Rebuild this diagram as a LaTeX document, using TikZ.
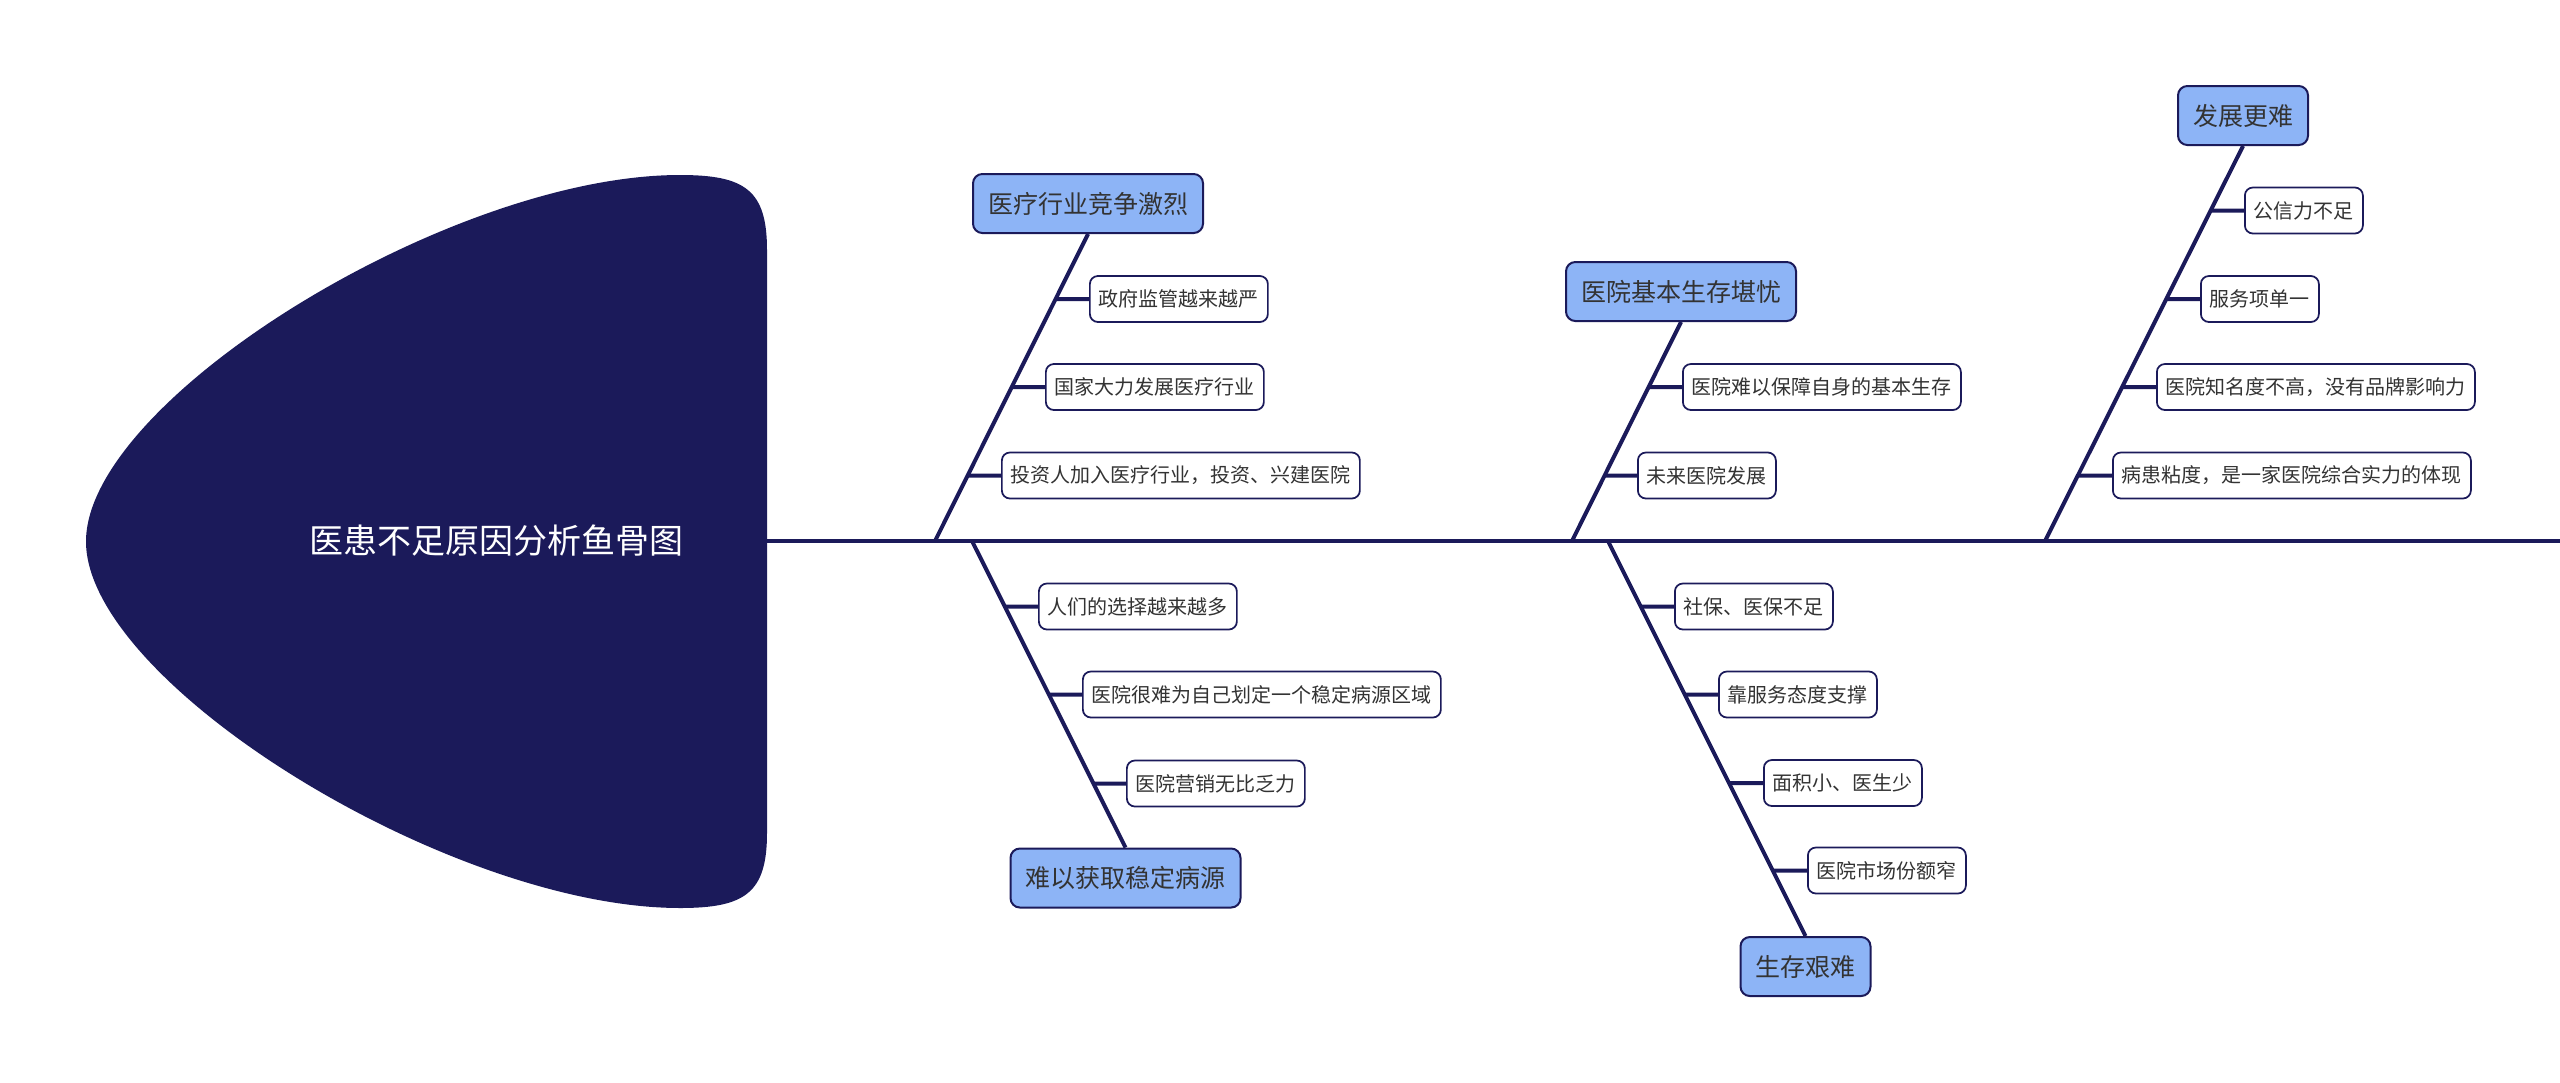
\documentclass[tikz,border=0pt]{standalone}
\usepackage{fontspec}
\setmainfont{Noto Sans CJK SC}
\definecolor{navy}{HTML}{1B1A5A}
\definecolor{catblue}{HTML}{8DB4F6}
\definecolor{txt}{HTML}{333333}
\begin{document}
\begin{tikzpicture}[x=0.75pt,y=-0.75pt,
  catbox/.style={draw=navy,fill=catblue,line width=1.5pt,rounded corners=7pt,minimum height=44.25pt,inner xsep=11.25pt,inner ysep=0pt,text=txt,font=\fontsize{18.75}{22}\selectfont},
  leafbox/.style={draw=navy,fill=white,line width=1.3pt,rounded corners=6pt,minimum height=34.5pt,inner xsep=6.75pt,inner ysep=0pt,text=txt,font=\fontsize{15}{18}\selectfont,anchor=west},
  bone/.style={draw=navy,line width=3pt},
  twig/.style={draw=navy,line width=3pt}]
\useasboundingbox (0,0) rectangle (2560,1082);

% fish head
\fill[navy] (86,541.5) .. controls (86,400) and (450,175) .. (680,175)
  .. controls (745,175) and (767,190) .. (767,250) -- (767,833)
  .. controls (767,893) and (745,908) .. (680,908)
  .. controls (450,908) and (86,683) .. (86,541.5) -- cycle;
\node[text=white,font=\fontsize{25.5}{30}\selectfont] (head) at (496,541) {医患不足原因分析鱼骨图};

% spine
\coordinate (headR) at (767,541);
\coordinate (tail) at (2560,541);
\draw[bone] (headR) -- (tail);

% junctions on spine
\coordinate (j1) at (935,541);
\coordinate (j2) at (972,541);
\coordinate (j3) at (1572,541);
\coordinate (j4) at (1608,541);
\coordinate (j5) at (2045,541);

% category boxes
\node[catbox] (c1) at (1088,203.5) {医疗行业竞争激烈};
\node[catbox] (c2) at (1125.5,878) {难以获取稳定病源};
\node[catbox] (c3) at (1681,291.5) {医院基本生存堪忧};
\node[catbox] (c4) at (1805.5,966.5) {生存艰难};
\node[catbox] (c5) at (2243,115.5) {发展更难};

% bones
\draw[bone] (c1.south) -- (j1);
\draw[bone] (c2.north) -- (j2);
\draw[bone] (c3.south) -- (j3);
\draw[bone] (c4.north) -- (j4);
\draw[bone] (c5.south) -- (j5);

% leaves branch 1
\node[leafbox] (l11) at (1089,299) {政府监管越来越严};
\node[leafbox] (l12) at (1045,387) {国家大力发展医疗行业};
\node[leafbox] (l13) at (1001,475.5) {投资人加入医疗行业，投资、兴建医院};
% leaves branch 2
\node[leafbox] (l21) at (1038,606.5) {人们的选择越来越多};
\node[leafbox] (l22) at (1082,694.5) {医院很难为自己划定一个稳定病源区域};
\node[leafbox] (l23) at (1126,783.5) {医院营销无比乏力};
% leaves branch 3
\node[leafbox] (l31) at (1682,387) {医院难以保障自身的基本生存};
\node[leafbox] (l32) at (1637,475.5) {未来医院发展};
% leaves branch 4
\node[leafbox] (l41) at (1674,606.5) {社保、医保不足};
\node[leafbox] (l42) at (1718,694.5) {靠服务态度支撑};
\node[leafbox] (l43) at (1763,783) {面积小、医生少};
\node[leafbox] (l44) at (1807,870.5) {医院市场份额窄};
% leaves branch 5
\node[leafbox] (l51) at (2244,210.5) {公信力不足};
\node[leafbox] (l52) at (2200,299) {服务项单一};
\node[leafbox] (l53) at (2156,387) {医院知名度不高，没有品牌影响力};
\node[leafbox] (l54) at (2112,475.5) {病患粘度，是一家医院综合实力的体现};

% twigs
\foreach \l in {l11,l12,l13}
  \draw[twig] (\l.west) -- (intersection of c1.south--j1 and \l.west--\l.east);
\foreach \l in {l21,l22,l23}
  \draw[twig] (\l.west) -- (intersection of c2.north--j2 and \l.west--\l.east);
\foreach \l in {l31,l32}
  \draw[twig] (\l.west) -- (intersection of c3.south--j3 and \l.west--\l.east);
\foreach \l in {l41,l42,l43,l44}
  \draw[twig] (\l.west) -- (intersection of c4.north--j4 and \l.west--\l.east);
\foreach \l in {l51,l52,l53,l54}
  \draw[twig] (\l.west) -- (intersection of c5.south--j5 and \l.west--\l.east);
\end{tikzpicture}
\end{document}
